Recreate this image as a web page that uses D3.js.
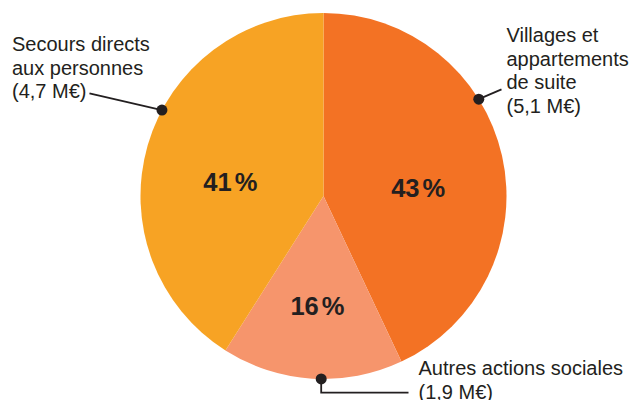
<!DOCTYPE html>
<html>
<head>
<meta charset="utf-8">
<script src="https://cdn.jsdelivr.net/npm/d3@7"></script>
<style>
  html, body { margin: 0; padding: 0; background: #fff; }
  svg { display: block; font-family: 'Liberation Sans', Arial, sans-serif; }
</style>
</head>
<body>
<div id="chart"></div>
<script>
// Chart data
const categories = ['Villages et appartements de suite', 'Autres actions sociales', 'Secours directs aux personnes'];
const percents = [43, 16, 41];
const amounts = ['5,1 M€', '1,9 M€', '4,7 M€'];
const colors = ['#F37224', '#F6956C', '#F7A324'];

const width = 630;
const height = 400;
const cx = 323.5;
const cy = 196;
const radius = 183;
const textColor = '#231F20';

const svg = d3.select('#chart')
  .append('svg')
  .attr('width', width)
  .attr('height', height);

const g = svg.append('g').attr('transform', `translate(${cx},${cy})`);

const pie = d3.pie().sort(null).value((d) => d);
const arcs = pie(percents);

const arc = d3.arc().innerRadius(0).outerRadius(radius);
const labelArc = d3.arc().innerRadius(97).outerRadius(97);

g.selectAll('.slice')
  .data(arcs)
  .enter()
  .append('path')
  .attr('class', 'slice')
  .attr('d', arc)
  .attr('fill', (d, i) => colors[i]);

// Percent labels inside slices
const pct = g.selectAll('.pct')
  .data(arcs)
  .enter()
  .append('text')
  .attr('class', 'pct')
  .attr('transform', (d) => {
    const c = labelArc.centroid(d);
    return `translate(${c[0]},${c[1] + 22})`;
  })
  .attr('text-anchor', 'middle')
  .attr('font-size', 25.5)
  .attr('font-weight', 'bold')
  .attr('fill', textColor);
pct.append('tspan').text((d) => d.data);
pct.append('tspan').attr('dx', 3).text('%');

// Callout labels: where the dot sits in its slice (0..1), and text block placement
const callouts = [
  { lines: ['Villages et', 'appartements', 'de suite'], at: 0.375, x: 506.5, y: 41.7, lead: 'right' },
  { lines: ['Autres actions sociales'], at: 0.45, x: 418.5, y: 375, lead: 'bottom' },
  { lines: ['Secours directs', 'aux personnes'], at: 0.58, x: 12, y: 50.7, lead: 'left' }
];
const lineHeight = 23.8;

arcs.forEach((d, i) => {
  const c = callouts[i];
  const a = d.startAngle + (d.endAngle - d.startAngle) * c.at;
  const px = cx + radius * Math.sin(a);
  const py = cy - radius * Math.cos(a);

  const lines = c.lines.concat([`(${amounts[i]})`]);
  const text = svg.append('text')
    .attr('font-size', 20)
    .attr('fill', textColor);
  lines.forEach((l, j) => {
    text.append('tspan')
      .attr('x', c.x)
      .attr('y', c.y + j * lineHeight)
      .text(l);
  });

  let points;
  if (c.lead === 'left') {
    const last = text.selectAll('tspan').nodes().pop();
    const endX = c.x + last.getComputedTextLength() + 3;
    const endY = c.y + (lines.length - 1) * lineHeight - 5;
    points = [[endX, endY], [px, py]];
  } else if (c.lead === 'right') {
    const endY = c.y + (lines.length - 2) * lineHeight;
    points = [[c.x - 5, endY], [px, py]];
  } else {
    const endY = c.y + 17.7;
    points = [[px, py], [px, endY], [c.x - 10, endY]];
  }

  svg.append('path')
    .attr('d', d3.line()(points))
    .attr('fill', 'none')
    .attr('stroke', textColor)
    .attr('stroke-width', 1.8);

  svg.append('circle')
    .attr('cx', px)
    .attr('cy', py)
    .attr('r', 5.5)
    .attr('fill', textColor);
});
</script>
</body>
</html>
